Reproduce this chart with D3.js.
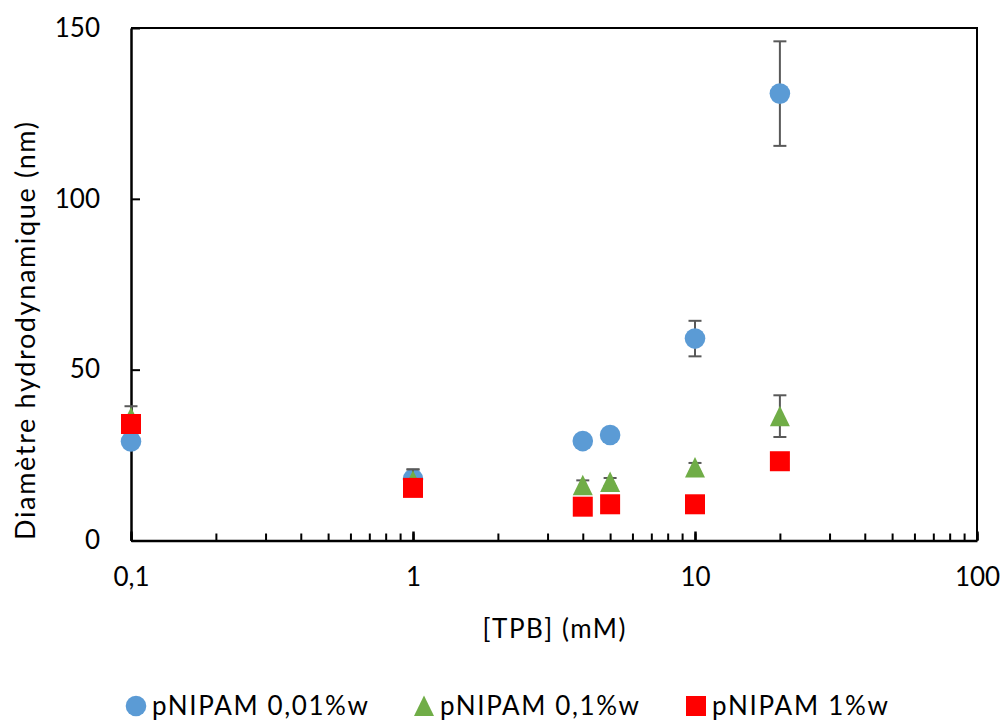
<!DOCTYPE html>
<html><head><meta charset="utf-8">
<script src="https://cdn.jsdelivr.net/npm/d3@7"></script>
<style>body{margin:0;background:#fff} svg text{font-family:Lato,"Open Sans",sans-serif;fill:#000}</style>
</head><body><svg id="c" width="1005" height="721"></svg>
<script>
const xValues = [0.1, 1, 4, 5, 10, 20];
const seriesNames = ["pNIPAM 0,01%w", "pNIPAM 0,1%w", "pNIPAM 1%w"];
const blueValues = [29, 18, 29.1, 30.9, 59.1, 130.8];
const blueErrors = [0.5, 2.8, 0.5, 0.5, 5.2, 15.3];
const greenValues = [36, 17.5, 16.2, 17.1, 21.4, 36.4];
const greenErrors = [3.3, 3.3, 1.4, 1.2, 1.3, 6.1];
const redValues = [34.1, 15.4, 9.9, 10.6, 10.6, 23.2];
const redErrors = [0.5, 0.5, 0.5, 0.5, 0.5, 0.5];
const xTickValues = [0.1, 1, 10, 100];
const xTickLabels = ["0,1", "1", "10", "100"];
const yTickValues = [0, 50, 100, 150];
const xTitle = "[TPB] (mM)";
const yTitle = "Diamètre hydrodynamique (nm)";

const colors = ["#5B9BD5", "#70AD47", "#FF0000"];
const shapes = ["circle", "triangle", "square"];
const series = [
  {name: seriesNames[0], values: blueValues, errors: blueErrors},
  {name: seriesNames[1], values: greenValues, errors: greenErrors},
  {name: seriesNames[2], values: redValues, errors: redErrors}
];

const svg = d3.select("#c");
const L = 131, R = 977, T = 28, B = 540.5;
const x = d3.scaleLog().domain([0.1, 100]).range([L, R]);
const y = d3.scaleLinear().domain([0, 150]).range([B, T]);
const fs = 26;

// frame top/right
svg.append("path").attr("d", `M${L},${T}H${R}V${B}`).attr("fill","none").attr("stroke","#000").attr("stroke-width",2);

// minor x ticks
const gx = svg.append("g").attr("transform", `translate(0,${B})`)
  .call(d3.axisBottom(x).tickValues(x.ticks()).tickSize(-7).tickFormat(""));
gx.select(".domain").remove();
gx.selectAll(".tick line").attr("stroke","#000").attr("stroke-width",2);
// major x ticks + labels
const gx2 = svg.append("g").attr("transform", `translate(0,${B})`)
  .call(d3.axisBottom(x).tickValues(xTickValues).tickSizeInner(-9).tickSizeOuter(0).tickPadding(27)
    .tickFormat((d,i) => xTickLabels[i]));
gx2.select(".domain").attr("stroke","#000").attr("stroke-width",2.5);
gx2.selectAll(".tick line").attr("stroke","#000").attr("stroke-width",2.5);
gx2.selectAll(".tick text").style("font-size", fs+"px");

// y axis
const gy = svg.append("g").attr("transform", `translate(${L},0)`)
  .call(d3.axisLeft(y).tickValues(yTickValues).tickSizeInner(-9).tickSizeOuter(0).tickPadding(31));
gy.select(".domain").attr("stroke","#000").attr("stroke-width",2.5);
gy.selectAll(".tick line").attr("stroke","#000").attr("stroke-width",2);
gy.selectAll(".tick text").style("font-size", fs+"px");

// titles
svg.append("text").attr("x", 554).attr("y", 638).attr("text-anchor","middle").style("font-size", fs+"px")
  .attr("textLength", 143).attr("lengthAdjust","spacing").text(xTitle);
svg.append("text").attr("transform","translate(35,331) rotate(-90)").attr("text-anchor","middle").style("font-size", "27px")
  .attr("textLength", 418).attr("lengthAdjust","spacing").text(yTitle);

function marker(g, shape, color, cx, cy) {
  if (shape === "circle") g.append("circle").attr("cx",cx).attr("cy",cy).attr("r",10.3).attr("fill",color);
  else if (shape === "triangle") g.append("path").attr("d",`M${cx},${cy-10.5}L${cx+10},${cy+10}L${cx-10},${cy+10}Z`).attr("fill",color);
  else g.append("rect").attr("x",cx-10).attr("y",cy-10).attr("width",20).attr("height",20).attr("fill",color);
}

const plot = svg.append("g");
series.forEach((s, si) => {
  const g = plot.append("g");
  xValues.forEach((xv, i) => {
    const cx = x(xv), y1 = y(s.values[i] + s.errors[i]), y0 = y(s.values[i] - s.errors[i]);
    const eg = g.append("g").attr("stroke","#595959").attr("stroke-width",2);
    eg.append("line").attr("x1",cx).attr("x2",cx).attr("y1",y1).attr("y2",y0);
    eg.append("line").attr("x1",cx-6.5).attr("x2",cx+6.5).attr("y1",y1).attr("y2",y1);
    eg.append("line").attr("x1",cx-6.5).attr("x2",cx+6.5).attr("y1",y0).attr("y2",y0);
  });
  xValues.forEach((xv, i) => {
    marker(g, shapes[si], colors[si], x(xv), y(s.values[i]));
  });
});

// legend
const legX = [136, 424, 696];
const legW = [216, 199, 176];
const legend = svg.append("g");
series.forEach((s, si) => {
  marker(legend, shapes[si], colors[si], legX[si], 706);
  legend.append("text").attr("x", legX[si] + 16).attr("y", 715).style("font-size", fs+"px")
    .attr("textLength", legW[si]).attr("lengthAdjust","spacing").text(s.name);
});
</script></body></html>
